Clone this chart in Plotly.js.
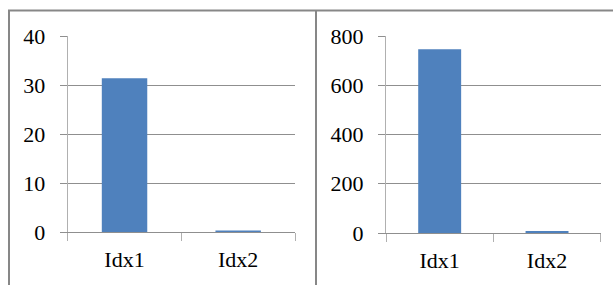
<!DOCTYPE html>
<html>
<head>
<meta charset="utf-8">
<script src="https://cdn.plot.ly/plotly-3.0.1.min.js"></script>
<style>html,body{margin:0;padding:0;background:#fff;}#chart{width:613px;height:285px;}</style>
</head>
<body>
<div id="chart"></div>
<script>
const categories = ["Idx1", "Idx2"];
const leftValues = [31.4, 0.3];
const rightValues = [746, 8];
const leftTicks = [0, 10, 20, 30, 40];
const rightTicks = [0, 200, 400, 600, 800];

const W = 613, H = 285;
const barColor = "#4f81bd";
const gridColor = "#8f8f8f";
const axisColor = "#b0b0b0";
const borderColor = "#878787";
const font = {family: "Liberation Serif, Times New Roman, serif", size: 22, color: "#000"};

const traces = [
  {type: "bar", x: categories, y: leftValues, xaxis: "x", yaxis: "y", marker: {color: barColor}, hoverinfo: "none"},
  {type: "bar", x: categories, y: rightValues, xaxis: "x2", yaxis: "y2", marker: {color: barColor}, hoverinfo: "none"}
];

function xAxis(domain, anchor) {
  return {
    domain: domain, anchor: anchor, type: "category", range: [-0.5, 1.5],
    showline: true, linecolor: gridColor, linewidth: 1,
    ticks: "outside", tickson: "boundaries", ticklen: 8, tickcolor: axisColor, tickwidth: 1,
    ticklabelstandoff: 8,
    showgrid: false, zeroline: false, tickfont: font, fixedrange: true
  };
}
function yAxis(domain, anchor, range, ticks) {
  return {
    domain: domain, anchor: anchor, range: range, tickmode: "array", tickvals: ticks,
    ticktext: ticks.map(String),
    showline: true, linecolor: axisColor, linewidth: 1,
    showgrid: true, gridcolor: gridColor, gridwidth: 1,
    ticks: "outside", ticklen: 7, tickcolor: gridColor, tickwidth: 1,
    ticklabelstandoff: 10,
    zeroline: false, tickfont: font, fixedrange: true
  };
}

const layout = {
  width: W, height: H, autosize: false,
  margin: {l: 0, r: 0, t: 0, b: 0, pad: 0},
  paper_bgcolor: "#fff", plot_bgcolor: "rgba(0,0,0,0)",
  showlegend: false, bargap: 0.6,
  font: font,
  xaxis: xAxis([67.7 / W, 295 / W], "y"),
  yaxis: yAxis([53 / H, 249 / H], "x", [0, 40], leftTicks),
  xaxis2: xAxis([386 / W, 600.7 / W], "y2"),
  yaxis2: yAxis([52 / H, 249 / H], "x2", [0, 800], rightTicks),
  shapes: [
    {type: "line", xref: "paper", yref: "paper", x0: 8 / W, x1: 1, y0: 1 - 10.5 / H, y1: 1 - 10.5 / H, line: {color: borderColor, width: 2}},
    {type: "line", xref: "paper", yref: "paper", x0: 9 / W, x1: 9 / W, y0: 0, y1: 1 - 10 / H, line: {color: borderColor, width: 2}},
    {type: "line", xref: "paper", yref: "paper", x0: 316 / W, x1: 316 / W, y0: 0, y1: 1 - 10 / H, line: {color: borderColor, width: 2}}
  ]
};

Plotly.newPlot("chart", traces, layout, {displayModeBar: false, staticPlot: true});
</script>
</body>
</html>
